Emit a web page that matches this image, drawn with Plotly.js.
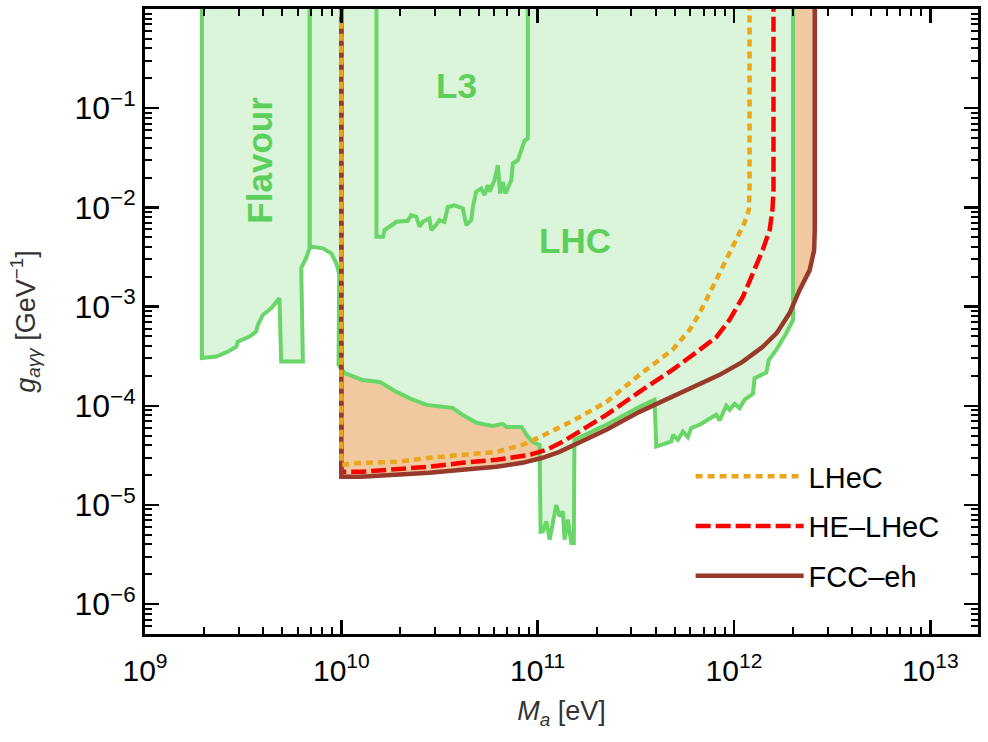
<!DOCTYPE html>
<html>
<head>
<meta charset="utf-8">
<script src="https://cdn.plot.ly/plotly-3.0.1.min.js"></script>
<style>
  html, body { margin: 0; padding: 0; background: #ffffff; }
  #chart { width: 988px; height: 742px; }
</style>
</head>
<body>
<div id="chart"></div>
<script>
// Axion mass M_a in eV, coupling g_aγγ in GeV^-1.
// Each excluded region is closed at g = 3, above the top of the plot.
const flavourX = [1.95e9, 1.95e9, 2.31e9, 2.64e9, 2.92e9, 2.97e9, 3.41e9, 3.68e9, 3.76e9, 3.98e9, 4.39e9, 4.84e9,
                  4.94e9, 6.37e9, 6.25e9, 6.62e9, 6.89e9, 6.89e9];
const flavourY = [3, 3.03e-4, 3.13e-4, 3.51e-4, 3.94e-4, 4.43e-4, 4.98e-4, 5.59e-4, 6.53e-4, 8.22e-4, 9.6e-4, 1.21e-3,
                  2.79e-4, 2.79e-4, 2.45e-3, 3.09e-3, 3.89e-3, 3];

const lhcX = [6.89e9, 6.89e9, 7.17e9, 8.05e9, 8.89e9, 9.42e9, 9.75e9, 9.68e9, 1.04e10, 1.28e10, 1.57e10, 1.91e10,
              2.31e10, 2.72e10, 3.28e10, 3.69e10, 4.14e10, 4.88e10, 5.89e10, 6.62e10, 6.94e10, 8.28e10, 8.78e10, 9.42e10,
              1.023e11, 1.035e11, 1.064e11, 1.107e11, 1.151e11, 1.195e11, 1.244e11, 1.293e11, 1.344e11, 1.371e11,
              1.425e11, 1.483e11, 1.528e11, 1.54e11, 1.58e11, 2.24e11, 3.30e11, 3.94e11, 4.02e11, 4.80e11, 4.89e11,
              5.18e11, 5.49e11, 5.82e11, 6.06e11, 6.68e11, 8.12e11, 8.45e11, 9.14e11, 9.5e11, 1.007e12, 1.069e12,
              1.133e12, 1.249e12, 1.274e12, 1.461e12, 1.507e12, 1.643e12, 1.847e12, 2.0e12, 2.0e12];
const lhcY = [3, 3.89e-3, 4.01e-3, 3.86e-3, 3.44e-3, 2.73e-3, 2.16e-3, 2.58e-4, 2.14e-4, 1.82e-4, 1.74e-4, 1.38e-4,
              1.15e-4, 1.02e-4, 9.75e-5, 9.53e-5, 8.1e-5, 6.73e-5, 6.27e-5, 6.57e-5, 6.12e-5, 6.12e-5, 5.09e-5, 4.33e-5,
              4.04e-5, 5.37e-6, 5.41e-6, 6.82e-6, 4.47e-6, 6.57e-6, 1.0e-5, 7.66e-6, 8.6e-6, 4.47e-6,
              7.1e-6, 4.13e-6, 4.13e-6, 4.54e-5, 4.65e-5, 6.43e-5, 9.75e-5, 1.15e-4, 3.88e-5, 4.36e-5, 5.09e-5,
              4.54e-5, 5.5e-5, 4.83e-5, 5.95e-5, 6.43e-5, 8.1e-5, 7.1e-5, 9.98e-5, 9.1e-5, 1.045e-4, 9.46e-5,
              1.15e-4, 1.32e-4, 1.9e-4, 2.16e-4, 2.9e-4, 3.66e-4, 5.38e-4, 7.33e-4, 3];

const l3X = [1.51e10, 1.51e10, 1.63e10, 1.66e10, 1.76e10, 1.91e10, 2.18e10, 2.27e10, 2.41e10, 2.50e10, 2.60e10,
             2.81e10, 2.87e10, 3.04e10, 3.16e10, 3.35e10, 3.49e10, 3.77e10, 4.16e10, 4.33e10, 4.59e10, 4.68e10,
             4.86e10, 5.16e10, 5.36e10, 5.57e10, 5.69e10, 6.03e10, 6.27e10, 6.44e10, 6.65e10, 6.86e10, 7.34e10,
             7.48e10, 7.93e10, 8.25e10, 8.57e10, 8.91e10, 8.91e10];
const l3Y = [3, 5.06e-3, 5.06e-3, 5.91e-3, 6.38e-3, 7.16e-3, 7.33e-3, 8.36e-3, 8.04e-3, 6.38e-3, 7.16e-3,
             7.74e-3, 5.91e-3, 6.64e-3, 7.45e-3, 7.16e-3, 1.01e-2, 1.05e-2, 9.77e-3, 6.64e-3, 7.45e-3, 1.01e-2,
             1.44e-2, 1.55e-2, 1.33e-2, 1.68e-2, 1.44e-2, 1.88e-2, 2.67e-2, 1.38e-2, 1.81e-2, 1.38e-2, 1.88e-2,
             2.77e-2, 2.99e-2, 3.78e-2, 4.69e-2, 4.95e-2, 3];

// Projected reach of the ep colliders (open at the top of the plot)
const lhecX = [1e10, 1e10, 1.26e10, 1.91e10, 2.81e10, 4.14e10, 6.17e10, 8.37e10, 1.02e11, 1.51e11, 2.24e11, 3.30e11,
               4.86e11, 5.94e11, 6.68e11, 7.52e11, 8.45e11, 9.48e11, 1.04e12, 1.13e12, 1.19e12, 1.20e12, 1.20e12];
const lhecY = [3, 2.54e-5, 2.66e-5, 2.72e-5, 2.99e-5, 3.20e-5, 3.43e-5, 4.04e-5, 4.81e-5, 7.05e-5, 1.09e-4, 2.05e-4,
               3.66e-4, 5.81e-4, 8.61e-4, 1.37e-3, 2.18e-3, 3.47e-3, 5.02e-3, 6.95e-3, 9.4e-3, 1.49e-2, 3];

const heLhecX = [1e10, 1e10, 1.26e10, 1.91e10, 2.81e10, 4.14e10, 6.17e10, 9.10e10, 1.11e11, 1.34e11, 1.63e11, 2.24e11,
                 3.30e11, 4.86e11, 6.68e11, 8.15e11, 9.48e11, 1.11e12, 1.25e12, 1.40e12, 1.52e12, 1.57e12, 1.59e12, 1.59e12];
const heLhecY = [3, 2.16e-5, 2.16e-5, 2.31e-5, 2.43e-5, 2.66e-5, 2.85e-5, 3.20e-5, 3.59e-5, 4.33e-5, 5.46e-5, 8.1e-5,
                 1.38e-4, 2.30e-4, 3.66e-4, 4.94e-4, 7.33e-4, 1.25e-3, 2.18e-3, 3.71e-3, 5.91e-3, 9.4e-3, 1.49e-2, 3];

const fccX = [1e10, 1e10, 1.26e10, 1.91e10, 2.81e10, 4.14e10, 6.17e10, 8.37e10, 1.06e11, 1.29e11, 1.60e11, 2.24e11,
              3.30e11, 4.86e11, 6.68e11, 8.45e11, 1.10e12, 1.40e12, 1.65e12, 1.92e12, 2.16e12, 2.43e12, 2.56e12, 2.58e12, 2.58e12];
const fccY = [3, 1.92e-5, 1.92e-5, 2.01e-5, 2.11e-5, 2.26e-5, 2.43e-5, 2.66e-5, 2.99e-5, 3.43e-5, 4.2e-5, 5.72e-5,
              8.68e-5, 1.23e-4, 1.62e-4, 2.05e-4, 2.75e-4, 3.92e-4, 5.4e-4, 8.6e-4, 1.47e-3, 2.33e-3, 3.7e-3, 5.9e-3, 3];

// Axis ticks
const xTickVals = [1e9, 1e10, 1e11, 1e12, 1e13];
const xTickText = ['10<sup>9</sup>', '10<sup>10</sup>', '10<sup>11</sup>', '10<sup>12</sup>', '10<sup>13</sup>'];
const yTickVals = [1e-6, 1e-5, 1e-4, 1e-3, 1e-2, 1e-1];
const yTickText = ['10<sup>−6</sup>', '10<sup>−5</sup>', '10<sup>−4</sup>', '10<sup>−3</sup>', '10<sup>−2</sup>', '10<sup>−1</sup>'];

// Region labels: [text, log10 M_a, log10 g, rotation]
const regionLabels = [
  ['Flavour', 9.583, -1.524, -90],
  ['L3', 10.587, -0.769, 0],
  ['LHC', 11.188, -2.330, 0]
];

function minorTicks(lo, hi) {
  const out = [];
  for (let e = lo; e <= hi; e++) {
    for (let m = 2; m <= 9; m++) out.push(m * Math.pow(10, e));
  }
  return out;
}

const green = '#6ad66a';
const greenFill = '#dbf5da';
const greenText = '#5ccf5c';
const orangeFill = '#f1c9a0';

function region(x, y) {
  return {
    x: x, y: y, type: 'scatter', mode: 'lines', fill: 'toself', fillcolor: greenFill,
    line: {color: green, width: 4}, showlegend: false, hoverinfo: 'skip'
  };
}

const traces = [
  // FCC-eh reach, filled underneath the existing limits
  {x: fccX, y: fccY, type: 'scatter', mode: 'lines', fill: 'toself', fillcolor: orangeFill,
   line: {width: 0, color: orangeFill}, showlegend: false, hoverinfo: 'skip'},
  region(lhcX, lhcY),
  region(flavourX, flavourY),
  region(l3X, l3Y),
  {x: heLhecX, y: heLhecY, type: 'scatter', mode: 'lines', name: 'HE–LHeC', legendgroup: 'b', legendrank: 2,
   line: {color: '#ff0000', width: 4.5, dash: '15px,5px'}},
  {x: fccX, y: fccY, type: 'scatter', mode: 'lines', name: 'FCC–eh', legendgroup: 'c', legendrank: 3,
   line: {color: '#983a2b', width: 4.5}},
  {x: lhecX, y: lhecY, type: 'scatter', mode: 'lines', name: 'LHeC', legendgroup: 'a', legendrank: 1,
   line: {color: '#eba61f', width: 4.5, dash: '7px,5px'}}
];

const axisCommon = {
  type: 'log', showgrid: false, zeroline: false, showline: true, linecolor: '#000', linewidth: 3,
  mirror: 'ticks', ticks: 'inside', ticklen: 14, tickwidth: 2.5, tickcolor: '#000',
  tickmode: 'array'
};

const layout = {
  width: 988, height: 742,
  margin: {l: 145, r: 10, t: 9, b: 108},
  paper_bgcolor: '#ffffff', plot_bgcolor: '#ffffff',
  font: {family: '"Liberation Sans", Arial, sans-serif', color: '#000'},
  showlegend: true,
  legend: {
    x: 0.655, y: 0.293, xanchor: 'left', yanchor: 'top', bgcolor: 'rgba(0,0,0,0)',
    font: {size: 29, color: '#000'}, itemwidth: 108, traceorder: 'grouped', tracegroupgap: 9
  },
  xaxis: Object.assign({}, axisCommon, {
    range: [9, 13.243], tickvals: xTickVals, ticktext: xTickText,
    tickfont: {size: 30, color: '#000'}, ticklabelstandoff: 8,
    minor: {tickmode: 'array', tickvals: minorTicks(9, 13), ticks: 'inside', ticklen: 7, tickwidth: 2, tickcolor: '#000', showgrid: false},
    title: {text: '<i>M</i><sub><i>a</i></sub> [eV]', font: {size: 27, color: '#333'}, standoff: 16}
  }),
  yaxis: Object.assign({}, axisCommon, {
    range: [Math.log10(5e-7), 0], tickvals: yTickVals, ticktext: yTickText,
    tickfont: {size: 32, color: '#000'},
    minor: {tickmode: 'array', tickvals: minorTicks(-7, -1), ticks: 'inside', ticklen: 7, tickwidth: 2, tickcolor: '#000', showgrid: false},
    title: {text: '<i>g</i><sub><i>aγγ</i></sub> [GeV<sup>−1</sup>]', font: {size: 27, color: '#333'}, standoff: 32}
  }),
  annotations: regionLabels.map(l => ({
    x: l[1], y: l[2], xref: 'x', yref: 'y', text: '<b>' + l[0] + '</b>', textangle: l[3],
    showarrow: false, font: {size: 35, color: greenText}
  }))
};

Plotly.newPlot('chart', traces, layout, {displayModeBar: false, staticPlot: true});
</script>
</body>
</html>
